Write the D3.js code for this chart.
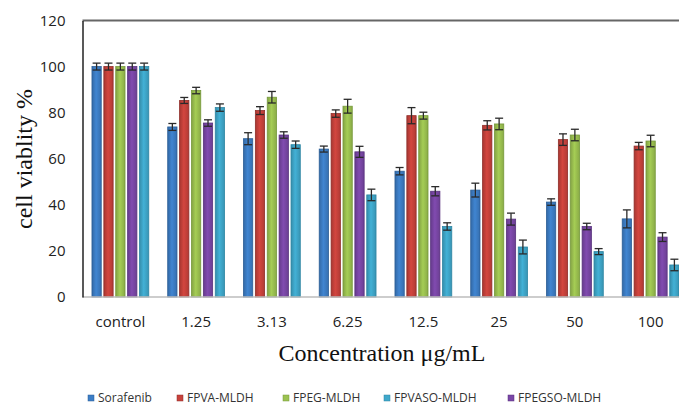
<!DOCTYPE html>
<html>
<head>
<meta charset="utf-8">
<script src="https://cdn.jsdelivr.net/npm/d3@7"></script>
<style>
html,body{margin:0;padding:0;background:#fff;}
svg{display:block;}
</style>
</head>
<body>
<svg id="chart" width="679" height="405"></svg>
<script>
// ---- data ----
const categories = ["control", "1.25", "3.13", "6.25", "12.5", "25", "50", "100"];
const seriesNames = ["Sorafenib", "FPVA-MLDH", "FPEG-MLDH", "FPVASO-MLDH", "FPEGSO-MLDH"];
const sorafenib   = [100, 73.8, 68.7, 64.2, 54.6, 46.4, 41.2, 33.9];
const fpva        = [100, 85.3, 80.9, 79.6, 78.7, 74.5, 68.3, 65.5];
const fpeg        = [100, 89.6, 86.7, 82.8, 78.7, 75.1, 70.3, 67.7];
const fpvaso      = [100, 82.2, 66.1, 44.3, 30.6, 21.7, 19.7, 13.9];
const fpegso      = [100, 75.5, 70.3, 63.0, 45.9, 33.8, 30.6, 26.0];
const sorafenibErr = [1.5, 1.5, 2.6, 1.3, 1.6, 3.0, 1.4, 3.9];
const fpvaErr      = [1.5, 1.3, 1.7, 1.6, 3.5, 2.0, 2.5, 1.6];
const fpegErr      = [1.5, 1.4, 2.5, 3.0, 1.5, 2.5, 2.5, 2.5];
const fpvasoErr    = [1.5, 1.6, 1.6, 2.5, 1.6, 3.0, 1.3, 2.5];
const fpegsoErr    = [1.5, 1.4, 1.4, 2.4, 2.0, 2.6, 1.4, 1.9];
const yTicks = [0, 20, 40, 60, 80, 100, 120];
// bar order inside each group (legend order differs)
const barOrder = ["Sorafenib", "FPVA-MLDH", "FPEG-MLDH", "FPEGSO-MLDH", "FPVASO-MLDH"];

const seriesValues = {
  "Sorafenib": sorafenib, "FPVA-MLDH": fpva, "FPEG-MLDH": fpeg,
  "FPVASO-MLDH": fpvaso, "FPEGSO-MLDH": fpegso
};
const seriesErrors = {
  "Sorafenib": sorafenibErr, "FPVA-MLDH": fpvaErr, "FPEG-MLDH": fpegErr,
  "FPVASO-MLDH": fpvasoErr, "FPEGSO-MLDH": fpegsoErr
};
const fillColor = d3.scaleOrdinal().domain(seriesNames)
  .range(["#3d7ec6", "#c8423c", "#9cc251", "#3fa8cb", "#7a47a7"]);
const strokeColor = d3.scaleOrdinal().domain(seriesNames)
  .range(["#2b5e96", "#8f2d28", "#76993a", "#2c85a3", "#58317e"]);

// ---- layout ----
const svg = d3.select("#chart");
const plotLeft = 82.5, plotRight = 688.5, plotTop = 20.5, plotBottom = 297;

const x0 = d3.scaleBand().domain(categories).range([plotLeft, plotRight]).paddingInner(0.25).paddingOuter(0.125);
const x1 = d3.scaleBand().domain(barOrder).range([0, x0.bandwidth()]).paddingInner(0.22);
const y = d3.scaleLinear().domain([0, 120]).range([plotBottom, plotTop]);

// gradients for bars
const defs = svg.append("defs");
seriesNames.forEach((s, i) => {
  const g = defs.append("linearGradient").attr("id", "g" + i)
    .attr("x1", "0%").attr("x2", "100%").attr("y1", "0%").attr("y2", "0%");
  const c = d3.color(fillColor(s));
  g.append("stop").attr("offset", "0%").attr("stop-color", c.darker(0.5));
  g.append("stop").attr("offset", "45%").attr("stop-color", c.brighter(0.15));
  g.append("stop").attr("offset", "100%").attr("stop-color", c.darker(0.35));
});

// top border
svg.append("line").attr("x1", plotLeft).attr("x2", 679).attr("y1", plotTop).attr("y2", plotTop)
  .attr("stroke", "#666").attr("stroke-width", 2);

// bars
const groups = svg.append("g").selectAll("g").data(categories).join("g")
  .attr("transform", d => `translate(${x0(d)},0)`);

const rowData = (c, ci) => barOrder.map(s => ({s, v: seriesValues[s][ci], e: seriesErrors[s][ci]}));

groups.selectAll("rect").data(rowData)
  .join("rect")
  .attr("x", d => x1(d.s))
  .attr("y", d => y(d.v))
  .attr("width", x1.bandwidth())
  .attr("height", d => plotBottom - y(d.v))
  .attr("fill", d => `url(#g${seriesNames.indexOf(d.s)})`)
  .attr("stroke", d => strokeColor(d.s))
  .attr("stroke-width", 0.8);

// error bars
const eb = groups.selectAll("g.eb").data(rowData)
  .join("g").attr("class", "eb")
  .attr("stroke", "#2a2a2a").attr("stroke-width", 1.3);
const capW = 4;
const cx = d => x1(d.s) + x1.bandwidth() / 2;
eb.append("line")
  .attr("x1", cx).attr("x2", cx)
  .attr("y1", d => y(d.v + d.e)).attr("y2", d => y(d.v - d.e));
eb.append("line")
  .attr("x1", d => cx(d) - capW).attr("x2", d => cx(d) + capW)
  .attr("y1", d => y(d.v + d.e)).attr("y2", d => y(d.v + d.e));
eb.append("line")
  .attr("x1", d => cx(d) - capW).attr("x2", d => cx(d) + capW)
  .attr("y1", d => y(d.v - d.e)).attr("y2", d => y(d.v - d.e));

// baseline (x axis)
const xAxis = d3.axisBottom(x0).tickSize(0).tickPadding(19);
const xg = svg.append("g").attr("transform", `translate(0,${plotBottom})`).call(xAxis);
xg.select(".domain").attr("stroke", "#bdbdbd").attr("stroke-width", 1.5).attr("d", `M${plotLeft},0H679`);
xg.selectAll("text").attr("font-family", "'Open Sans', sans-serif").attr("font-size", 15).attr("fill", "#222");

// y axis
const yAxis = d3.axisLeft(y).tickValues(yTicks).tickSize(0).tickPadding(17);
const yg = svg.append("g").attr("transform", `translate(${plotLeft},0)`).call(yAxis);
yg.select(".domain").attr("stroke", "#222").attr("stroke-width", 1.5);
yg.selectAll("text").attr("font-family", "'Open Sans', sans-serif").attr("font-size", 15).attr("fill", "#222");

// axis titles
svg.append("text").attr("transform", "translate(32,159) rotate(-90)")
  .attr("text-anchor", "middle").attr("font-family", "'Liberation Serif', 'Times New Roman', serif")
  .attr("font-size", 24).attr("fill", "#111").text("cell viablity %");
svg.append("text").attr("x", 382).attr("y", 361)
  .attr("text-anchor", "middle").attr("font-family", "'Liberation Serif', 'Times New Roman', serif")
  .attr("font-size", 24).attr("fill", "#111").text("Concentration μg/mL");

// legend
const legendX = [88, 177, 283, 384, 508];
const lg = svg.append("g").selectAll("g").data(seriesNames).join("g")
  .attr("transform", (d, i) => `translate(${legendX[i]},395)`);
lg.append("rect").attr("width", 6).attr("height", 6).attr("fill", d => fillColor(d)).attr("stroke", d => strokeColor(d)).attr("stroke-width", 0.5);
lg.append("text").attr("x", 10).attr("y", 7).attr("font-family", "'Open Sans', sans-serif")
  .attr("font-size", 12).attr("fill", "#333").text(d => d);
</script>
</body>
</html>
